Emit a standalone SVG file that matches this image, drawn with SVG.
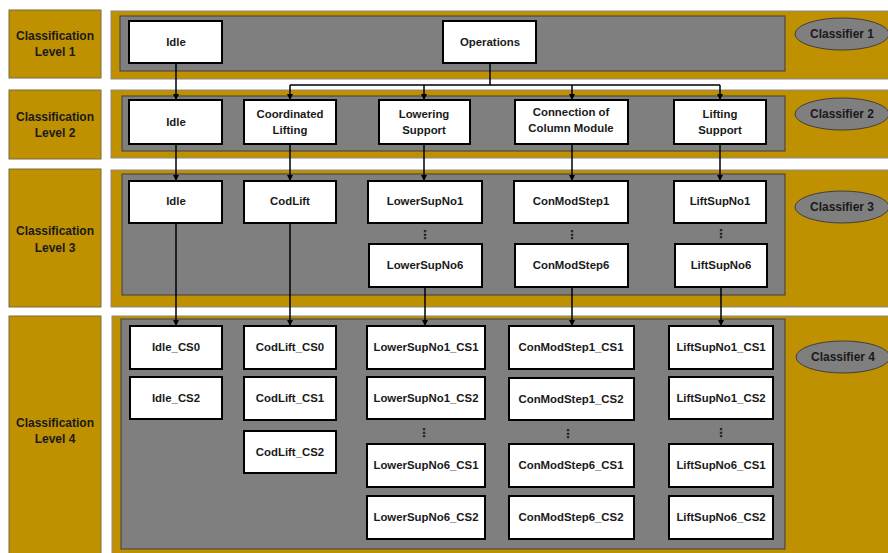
<svg xmlns="http://www.w3.org/2000/svg" width="888" height="553" viewBox="0 0 888 553">
  <defs>
    <marker id="arrow" viewBox="0 0 6 6" refX="6" refY="3" markerWidth="6" markerHeight="6" markerUnits="userSpaceOnUse" orient="auto">
      <path d="M0,0 L6,3 L0,6 Z" fill="#000"/>
    </marker>
    <style>
      .lvl { fill: #bf9000; stroke: #7a6a3a; stroke-width: 1; }
      .band { fill: #bf9000; stroke: #8a8a8a; stroke-width: 1; }
      .inner { fill: #7f7f7f; stroke: #3f3f3f; stroke-width: 1; }
      .box { fill: #ffffff; stroke: #000000; stroke-width: 2; }
      .cls { fill: #7f7f7f; stroke: #3f3f3f; stroke-width: 1; }
      text { font-family: "Liberation Sans", Arial, sans-serif; font-weight: bold; font-size: 11.4px; fill: #1a1a1a; text-anchor: middle; }
      .big { font-size: 12px; }
      .dots { font-family: "DejaVu Sans", sans-serif; font-size: 12px; font-weight: bold; fill: #222; }
      .wire { fill: none; stroke: #000; stroke-width: 1.5; }
    </style>
  </defs>

  <rect width="888" height="553" fill="#ffffff"/>

  <!-- level labels -->
  <g id="level1"><rect class="lvl" x="9" y="10" width="92" height="68"/><text class="big" x="55" y="40">Classification</text><text class="big" x="55" y="56">Level 1</text></g>
  <g id="level2"><rect class="lvl" x="9" y="90" width="92" height="69"/><text class="big" x="55" y="121">Classification</text><text class="big" x="55" y="137">Level 2</text></g>
  <g id="level3"><rect class="lvl" x="9" y="169" width="92" height="138"/><text class="big" x="55" y="235">Classification</text><text class="big" x="55" y="252">Level 3</text></g>
  <g id="level4"><rect class="lvl" x="9" y="316" width="92" height="240"/><text class="big" x="55" y="427">Classification</text><text class="big" x="55" y="443">Level 4</text></g>

  <!-- bands -->
  <g id="band1"><rect class="band" x="111" y="11" width="780" height="68"/><rect class="inner" x="120" y="16" width="665" height="55"/></g>
  <g id="band2"><rect class="band" x="111" y="90" width="780" height="68"/><rect class="inner" x="122" y="96" width="663" height="55"/></g>
  <g id="band3"><rect class="band" x="111" y="170" width="780" height="137"/><rect class="inner" x="122" y="174" width="663" height="121"/></g>
  <g id="band4"><rect class="band" x="112" y="316" width="779" height="240"/><rect class="inner" x="121" y="319" width="664" height="230"/></g>

  <!-- classifiers -->
  <g id="classifier1"><ellipse class="cls" cx="842" cy="34" rx="47" ry="16"/><text class="big" x="842" y="38">Classifier 1</text></g>
  <g id="classifier2"><ellipse class="cls" cx="842" cy="114" rx="47" ry="16"/><text class="big" x="842" y="118">Classifier 2</text></g>
  <g id="classifier3"><ellipse class="cls" cx="842" cy="207" rx="47" ry="16"/><text class="big" x="842" y="211">Classifier 3</text></g>
  <g id="classifier4"><ellipse class="cls" cx="843" cy="357" rx="47" ry="16"/><text class="big" x="843" y="361">Classifier 4</text></g>

  <!-- connectors -->
  <g id="connectors">
    <path class="wire" d="M176,63 V100" marker-end="url(#arrow)"/>
    <path class="wire" d="M490,63 V85 M290,85 H720"/>
    <path class="wire" d="M290,85 V100" marker-end="url(#arrow)"/>
    <path class="wire" d="M424,85 V100" marker-end="url(#arrow)"/>
    <path class="wire" d="M572,85 V100" marker-end="url(#arrow)"/>
    <path class="wire" d="M720,85 V100" marker-end="url(#arrow)"/>

    <path class="wire" d="M176,144 V181" marker-end="url(#arrow)"/>
    <path class="wire" d="M290,144 V181" marker-end="url(#arrow)"/>
    <path class="wire" d="M424,144 V181" marker-end="url(#arrow)"/>
    <path class="wire" d="M572,144 V181" marker-end="url(#arrow)"/>
    <path class="wire" d="M720,144 V181" marker-end="url(#arrow)"/>

    <path class="wire" d="M176,223 V326" marker-end="url(#arrow)"/>
    <path class="wire" d="M290,223 V326" marker-end="url(#arrow)"/>
    <path class="wire" d="M425,287 V326" marker-end="url(#arrow)"/>
    <path class="wire" d="M572,287 V326" marker-end="url(#arrow)"/>
    <path class="wire" d="M721,287 V326" marker-end="url(#arrow)"/>
  </g>

  <!-- level 1 nodes -->
  <g id="l1-idle"><rect class="box" x="129" y="21" width="93" height="42"/><text x="176" y="46">Idle</text></g>
  <g id="l1-operations"><rect class="box" x="443" y="21" width="93" height="42"/><text x="490" y="46">Operations</text></g>

  <!-- level 2 nodes -->
  <g id="l2-idle"><rect class="box" x="129" y="100" width="93" height="44"/><text x="176" y="126">Idle</text></g>
  <g id="l2-coordinated-lifting"><rect class="box" x="244" y="100" width="92" height="44"/><text x="290" y="118">Coordinated</text><text x="290" y="134">Lifting</text></g>
  <g id="l2-lowering-support"><rect class="box" x="379" y="100" width="91" height="44"/><text x="424" y="118">Lowering</text><text x="424" y="134">Support</text></g>
  <g id="l2-connection"><rect class="box" x="515" y="100" width="113" height="44"/><text x="571" y="116">Connection of</text><text x="571" y="132">Column Module</text></g>
  <g id="l2-lifting-support"><rect class="box" x="674" y="100" width="92" height="44"/><text x="720" y="118">Lifting</text><text x="720" y="134">Support</text></g>

  <!-- level 3 nodes -->
  <g id="l3-idle"><rect class="box" x="129" y="181" width="93" height="42"/><text x="176" y="205">Idle</text></g>
  <g id="l3-codlift"><rect class="box" x="244" y="181" width="92" height="42"/><text x="290" y="205">CodLift</text></g>
  <g id="l3-lowersupno1"><rect class="box" x="368" y="181" width="114" height="42"/><text x="425" y="205">LowerSupNo1</text></g>
  <g id="l3-lowersupno6"><rect class="box" x="369" y="244" width="113" height="43"/><text x="425" y="269">LowerSupNo6</text></g>
  <g id="l3-conmodstep1"><rect class="box" x="514" y="181" width="114" height="42"/><text x="571" y="205">ConModStep1</text></g>
  <g id="l3-conmodstep6"><rect class="box" x="515" y="244" width="113" height="43"/><text x="571" y="269">ConModStep6</text></g>
  <g id="l3-liftsupno1"><rect class="box" x="674" y="181" width="92" height="42"/><text x="720" y="205">LiftSupNo1</text></g>
  <g id="l3-liftsupno6"><rect class="box" x="675" y="244" width="92" height="43"/><text x="721" y="269">LiftSupNo6</text></g>
  <text class="dots" x="425" y="239">⋮</text>
  <text class="dots" x="572" y="239">⋮</text>
  <text class="dots" x="721" y="238">⋮</text>

  <!-- level 4 nodes -->
  <g id="l4-idle-cs0"><rect class="box" x="130" y="326" width="92" height="43"/><text x="176" y="351">Idle_CS0</text></g>
  <g id="l4-idle-cs2"><rect class="box" x="130" y="377" width="92" height="42"/><text x="176" y="402">Idle_CS2</text></g>
  <g id="l4-codlift-cs0"><rect class="box" x="244" y="326" width="92" height="43"/><text x="290" y="351">CodLift_CS0</text></g>
  <g id="l4-codlift-cs1"><rect class="box" x="244" y="377" width="92" height="43"/><text x="290" y="402">CodLift_CS1</text></g>
  <g id="l4-codlift-cs2"><rect class="box" x="244" y="431" width="92" height="42"/><text x="290" y="456">CodLift_CS2</text></g>

  <g id="l4-lowersupno1-cs1"><rect class="box" x="367" y="326" width="118" height="43"/><text x="426" y="351">LowerSupNo1_CS1</text></g>
  <g id="l4-lowersupno1-cs2"><rect class="box" x="367" y="377" width="118" height="42"/><text x="426" y="402">LowerSupNo1_CS2</text></g>
  <g id="l4-lowersupno6-cs1"><rect class="box" x="367" y="444" width="118" height="43"/><text x="426" y="469">LowerSupNo6_CS1</text></g>
  <g id="l4-lowersupno6-cs2"><rect class="box" x="367" y="496" width="118" height="43"/><text x="426" y="521">LowerSupNo6_CS2</text></g>

  <g id="l4-conmodstep1-cs1"><rect class="box" x="509" y="326" width="125" height="43"/><text x="571" y="351">ConModStep1_CS1</text></g>
  <g id="l4-conmodstep1-cs2"><rect class="box" x="509" y="378" width="125" height="42"/><text x="571" y="403">ConModStep1_CS2</text></g>
  <g id="l4-conmodstep6-cs1"><rect class="box" x="509" y="444" width="125" height="43"/><text x="571" y="469">ConModStep6_CS1</text></g>
  <g id="l4-conmodstep6-cs2"><rect class="box" x="509" y="496" width="125" height="43"/><text x="571" y="521">ConModStep6_CS2</text></g>

  <g id="l4-liftsupno1-cs1"><rect class="box" x="669" y="326" width="104" height="43"/><text x="721" y="351">LiftSupNo1_CS1</text></g>
  <g id="l4-liftsupno1-cs2"><rect class="box" x="669" y="377" width="104" height="42"/><text x="721" y="402">LiftSupNo1_CS2</text></g>
  <g id="l4-liftsupno6-cs1"><rect class="box" x="669" y="444" width="104" height="43"/><text x="721" y="469">LiftSupNo6_CS1</text></g>
  <g id="l4-liftsupno6-cs2"><rect class="box" x="669" y="496" width="104" height="43"/><text x="721" y="521">LiftSupNo6_CS2</text></g>
  <text class="dots" x="424" y="437">⋮</text>
  <text class="dots" x="568" y="438">⋮</text>
  <text class="dots" x="721" y="437">⋮</text>
</svg>
